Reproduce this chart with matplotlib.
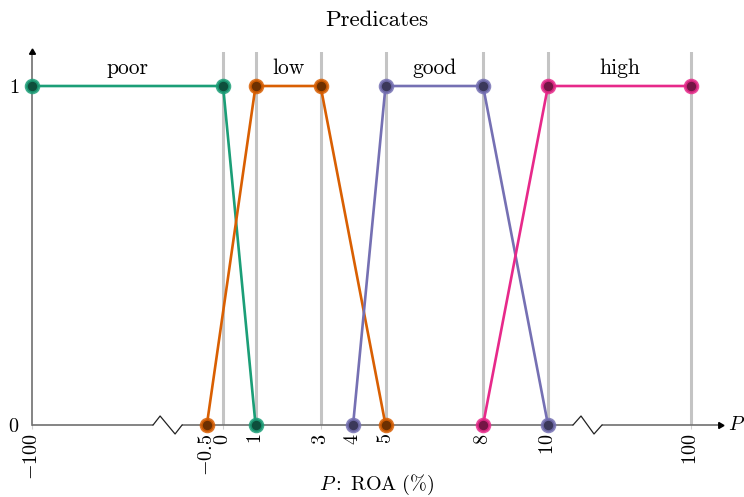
import numpy as np
import matplotlib
matplotlib.use('Agg')
import matplotlib.pyplot as plt

plt.rcParams['font.family'] = 'cmr10'
plt.rcParams['mathtext.fontset'] = 'cm'
plt.rcParams['axes.formatter.use_mathtext'] = True

## data: membership functions (x in % ROA, y membership)
names = ['poor', 'low', 'good', 'high']
colors = ['#1b9e77', '#d95f02', '#7570b3', '#e7298a']
xs = [[-100, 0, 1],
      [-0.5, 1, 3, 5],
      [4, 5, 8, 10],
      [8, 10, 100]]
ys = [[1, 1, 0],
      [0, 1, 1, 0],
      [0, 1, 1, 0],
      [0, 1, 1]]
xticks = [-100, -0.5, 0, 1, 3, 4, 5, 8, 10, 100]
xticklabels = ['$-100$', '$-0.5$', '$0$', '$1$', '$3$', '$4$', '$5$', '$8$', '$10$', '$100$']
gridx = [0, 1, 3, 5, 8, 10, 100]

# broken axis: squeeze the far ends
def pos(v):
    return np.interp(v, [-100, -0.5, 10, 100], [-5.88, -0.5, 10, 14.4])

fig = plt.figure(figsize=(7.44, 4.97), dpi=100)
W, H = 744., 497.
ax = fig.add_axes([32/W, (H-425)/H, (720-32)/W, (425-52)/H])
ax.set_xlim(pos(-100), (720-223)/32.5)
ax.set_ylim(0, (425-52)/339.)

axcol = '#707070'
for s in ['top', 'right', 'bottom']:
    ax.spines[s].set_visible(False)
ax.spines['left'].set_color(axcol)
ax.spines['left'].set_linewidth(1.2)

# gray guide lines
for g in gridx:
    ax.axvline(pos(g), color='#c4c4c4', lw=2.2, zorder=1)

# x axis with two zigzag breaks
brk = [(-2.154, -1.938, -1.477, -1.262), (10.77, 11.015, 11.415, 11.66)]
h = 9/339.
xmin, xmax = ax.get_xlim()
segs = [xmin, brk[0][0], brk[0][3], brk[1][0], brk[1][3], xmax]
for a, b in zip(segs[0::2], segs[1::2]):
    ax.plot([a, b], [0, 0], color=axcol, lw=1.2, clip_on=False, zorder=2,
            solid_capstyle='butt')
for b in brk:
    ax.plot(b, [0, h, -h, 0], color='#222222', lw=0.9, clip_on=False, zorder=2)
# arrows
ax.plot([xmax], [0], marker=(3, 0, -90), ms=5, color='black', clip_on=False, zorder=3)
ax.plot([xmin], [ax.get_ylim()[1]], marker=(3, 0, 0), ms=5, color='black',
        clip_on=False, zorder=3)

# membership lines
for name, c, x, y in zip(names, colors, xs, ys):
    rgb = np.array(matplotlib.colors.to_rgb(c))
    ax.plot(pos(np.array(x)), y, color=c, lw=1.9, zorder=4, clip_on=False,
            marker='o', ms=9, mfc=tuple(rgb*0.5), mec=tuple(list(rgb)+[0.85]),
            mew=2.2)
    top = pos(np.array(x))[np.array(y) == 1]
    ax.text((top.min()+top.max())/2, 1.025, name, ha='center', va='bottom', fontsize=15.5)

ax.set_xticks(pos(np.array(xticks)))
ax.set_xticklabels(xticklabels, rotation=90, fontsize=14.5)
ax.set_yticks([0, 1])
ax.set_yticklabels(['$0$', '$1$'], fontsize=14.5)
ax.tick_params(axis='x', length=3, color='#d0d0d0', pad=3)
ax.tick_params(axis='y', length=0, pad=9)

ax.text(xmax+0.25, 0, '$P$', fontsize=14.5, ha='left', va='center')
fig.text(377/W, 1-485/H, r'$P\mathrm{:\ ROA\ (\%)}$', ha='center', va='center', fontsize=14.5)
fig.text(377/W, 1-20/H, 'Predicates', ha='center', va='center', fontsize=16.5)

fig.savefig('out.png', dpi=100)
